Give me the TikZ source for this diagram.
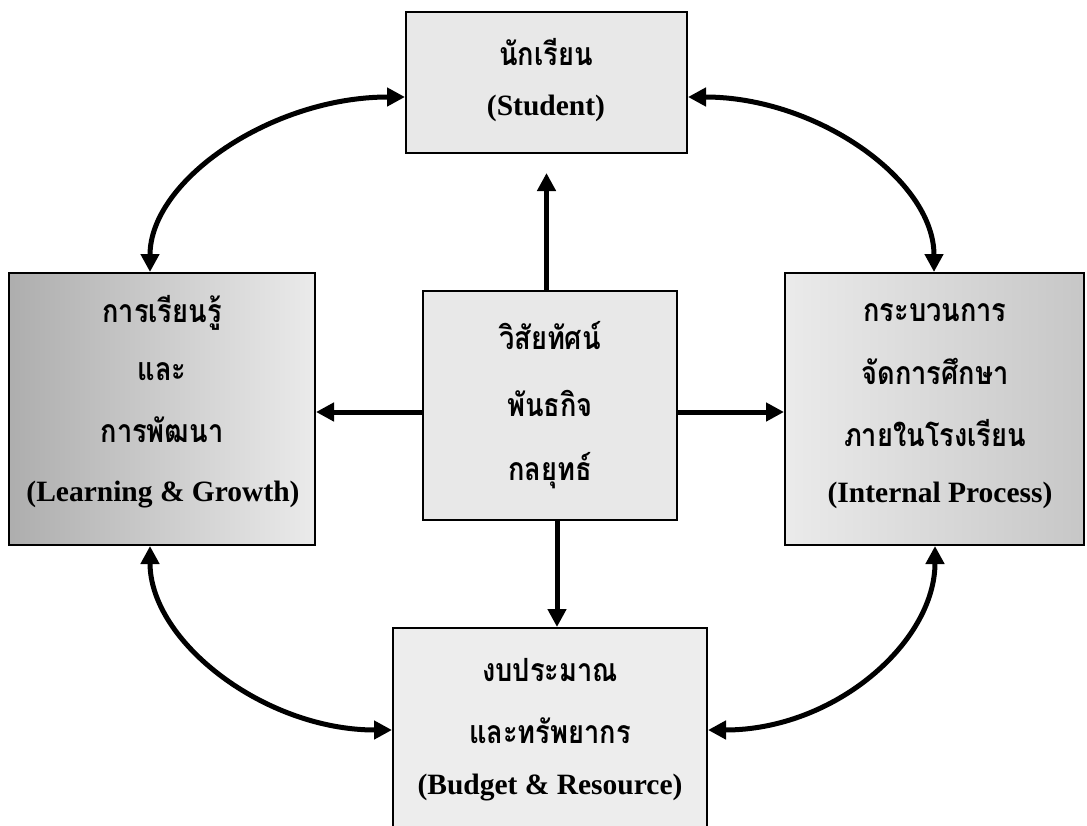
\documentclass[tikz,border=0pt]{standalone}
\usepackage{fontspec}
\setmainfont{Liberation Serif}
\newfontfamily\thaifont[Script=Thai, FakeStretch=0.85]{Loma}
\usetikzlibrary{arrows.meta}
\begin{document}
\begin{tikzpicture}[x=1pt,y=-1pt,
  box/.style={draw=black, line width=2pt, inner sep=0pt, fill=black!9},
  th/.style={font=\thaifont\bfseries\fontsize{32}{36}\selectfont, inner sep=0pt},
  en/.style={font=\bfseries\fontsize{29.5}{32}\selectfont, inner sep=0pt},
  tip/.tip={Triangle[length=18pt,width=18pt]},
  arr/.style={line width=5pt, -tip},
  dbl/.style={line width=5pt, tip-tip}
]
\useasboundingbox (0,0) rectangle (1087,825);
\clip (0,0) rectangle (1087,825);
\fill[white] (0,0) rectangle (1087,825);
% boxes
\node[box, minimum width=281pt, minimum height=141pt] (s) at (546.5,82.5) {};
\node[box, minimum width=306pt, minimum height=272pt, left color=black!32, right color=black!8] (l) at (162,409) {};
\node[box, minimum width=254pt, minimum height=229pt] (c) at (550,405.5) {};
\node[box, minimum width=299pt, minimum height=272pt, left color=black!8, right color=black!22] (r) at (934.5,409) {};
\node[box, minimum width=314pt, minimum height=207pt, fill=black!7] (b) at (550,731.5) {};
% texts
\node[th] (s1) at (546,52) {นักเรียน};
\node[en] (s2) at (546,108) {(Student)};
\node[th] (l1) at (162,313) {การเรียนรู้};
\node[th] (l2) at (162,372) {และ};
\node[th] (l3) at (162,430) {การพัฒนา};
\node[en] (l4) at (163,495) {(Learning \& Growth)};
\node[th] (c1) at (550,336) {วิสัยทัศน์};
\node[th] (c2) at (550,403) {พันธกิจ};
\node[th] (c3) at (550,471) {กลยุทธ์};
\node[th] (r1) at (935,313) {กระบวนการ};
\node[th] (r2) at (935,371) {จัดการศึกษา};
\node[th] (r3) at (935,433) {ภายในโรงเรียน};
\node[en] (r4) at (940,495) {(Internal Process)};
\node[th] (b1) at (550,670) {งบประมาณ};
\node[th] (b2) at (550,731) {และทรัพยากร};
\node[en] (b3) at (550,788) {(Budget \& Resource)};
% straight arrows
\draw[arr] (c.north -| s.south) -- (s.south |- 0,173);
\draw[arr] ([xshift=7pt]c.south) -- ([xshift=7pt]b.north);
\draw[arr] (c.west |- 0,412) -- (l.east |- 0,412);
\draw[arr] (c.east |- 0,412) -- (r.west |- 0,412);
% curved double arrows
\draw[dbl] (s.west |- 0,97) .. controls (272,97) and (150,180) .. (l.north -| 150,0);
\draw[dbl] (s.east |- 0,97) .. controls (817,97) and (934,180) .. (r.north -| 934,0);
\draw[dbl] (l.south -| 150,0) .. controls (150,642) and (265,730) .. (b.west |- 0,730);
\draw[dbl] (r.south -| 935,0) .. controls (935,642) and (835,730) .. (b.east |- 0,730);
\end{tikzpicture}
\end{document}
